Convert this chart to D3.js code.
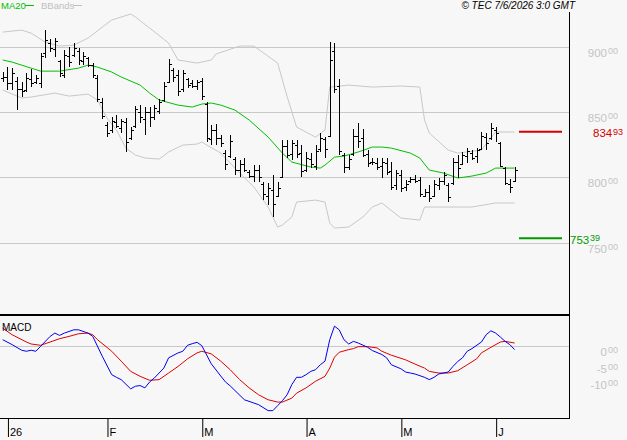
<!DOCTYPE html>
<html>
<head>
<meta charset="utf-8">
<script src="https://cdn.jsdelivr.net/npm/d3@7"></script>
<style>
  body { margin: 0; background: #f7f7f7; }
  svg { display: block; font-family: "Liberation Sans", Arial, sans-serif; }
</style>
</head>
<body>
<svg id="chart"></svg>
<script>
// OHLC bars, one per trading day (index 0 = last day of 2025)
const highs = [880.6,884.4,883.6,876.8,872.9,879.8,882.9,878.3,895.1,912.7,
  905.8,906.6,889.8,897.4,899.7,902.8,899.0,895.9,892.0,887.5,
  878.3,860.7,842.3,846.1,847.6,844.6,845.3,838.4,854.6,855.3,
  853.8,853.8,855.3,859.9,872.9,890.5,883.6,882.1,882.1,876.0,
  874.5,874.5,876.0,857.6,839.9,840.8,832.4,820.9,832.4,815.5,
  813.2,814.8,805.6,809.4,809.4,796.4,795.6,801.8,796.4,828.5,
  828.5,828.5,828.5,824.7,819.4,818.6,824.7,833.9,830.8,903.5,
  902.8,875.2,818.6,817.1,837.0,841.5,837.0,820.9,814.8,814.8,
  814.8,814.8,811.7,805.6,805.6,797.9,800.2,801.8,800.2,791.0,
  794.1,797.9,799.5,804.1,795.6,814.8,817.1,819.4,822.4,820.9,
  822.4,834.7,833.9,841.5,838.4,827.0,807.9,798.7,807.9];
const lows = [872.9,866.8,866.8,851.5,861.5,865.3,869.1,871.4,868.3,891.3,
  895.9,892.0,876.8,876.0,884.4,892.0,886.0,886.0,884.4,876.0,
  857.6,844.6,830.8,833.9,837.7,833.9,819.4,828.5,837.7,841.5,
  832.4,838.5,843.9,848.4,857.6,872.2,872.9,862.2,865.3,868.3,
  868.3,866.8,859.2,827.0,824.7,824.7,823.1,805.6,814.8,801.8,
  800.2,804.1,799.5,796.4,796.4,782.6,778.8,769.7,784.9,799.5,
  814.8,813.2,814.8,800.2,804.1,807.1,805.6,819.4,814.8,830.8,
  864.5,817.1,803.3,805.6,816.3,822.4,815.5,807.9,809.4,805.6,
  799.5,801.8,790.3,790.3,788.7,789.5,795.6,795.6,784.9,784.9,
  781.1,784.9,790.3,794.1,781.1,794.1,799.5,809.4,810.9,813.2,
  810.9,820.9,820.9,828.5,826.9,807.9,794.1,788.0,796.4];
const opens = [876,877,872,874,868,867,875,873,872,895,
  903,898,889,878,893,894,897,889,891,886,
  876,858,840,836,842,838,842,830,839,850,
  845,850,846,851,859,873,882,878,868,875,
  872,870,874,856,829,836,830,819,816,814,
  806,810,804,801,806,795,786,790,786,800,
  824,818,825,819,806,814,809,822,829,832,
  897,870,817,808,818,832,830,818,812,811,
  809,811,805,794,802,793,797,799,798,786,
  789,786,794,797,794,796,812,810,816,819,
  816,822,831,830,836,826,807,795,797];
const closes = [877,872,880,868,866,876,872,876,893,905,
  899,904,880,894,888,899,890,893,886,878,
  860,847,834,843,839,843,827,836,852,846,
  850,846,853,858,870,887,877,866,880,871,
  870,873,862,830,836,830,826,810,828,806,
  810,806,801,806,800,787,792,780,792,824,
  817,826,818,805,815,810,820,830,822,890,
  868,820,808,814,832,828,817,811,812,808,
  812,804,793,803,792,795,799,797,787,789,
  784,795,797,802,785,812,807,817,820,815,
  821,832,826,838,834,809,796,793,806];

// MA20 and Bollinger bands, read at these bar indices
const maIdx = [0,2,6,8,12,16,18,20,23,25,29,31,33,37,40,42,44,46,49,52,
  56,59,61,65,67,68,70,72,75,78,80,82,86,88,90,93,96,99,102,104,106,108];
const maVal = [889.8,888.2,883.6,881.3,881.3,883.6,885.9,884.4,880.6,876.8,
  870.6,864.5,859.2,855.3,853.8,856.1,856.9,855.3,851.5,843.9,
  830.8,818.6,811.7,807.9,807.1,809.4,815.5,816.3,819.4,823.2,
  823.2,822.4,818.6,814.8,805.6,803.3,799.5,801.0,803.3,807.1,807.1,807.1];
const upIdx = [0,4,6,9,12,15,18,21,23,27,28,31,35,37,41,44,45,50,53,58,
  60,62,66,68,69,73,78,84,88,89,90,94,96,101,104,108];
const upVal = [911.2,912.7,910.4,903.5,900.5,901.2,906.6,915.0,920.4,925.0,
  922.7,914.3,902.8,889.8,887.5,889.8,894.4,900.5,900.5,887.5,
  862.0,838.5,830.8,836.2,869.1,870.6,869.1,869.9,869.1,843.9,
  833.9,820.9,818.6,820.9,834.7,834.7];
const loIdx = [0,4,6,11,14,18,20,22,24,26,28,30,33,35,38,41,42,46,50,53,
  56,58,59,61,62,66,68,69,70,73,76,78,80,84,88,89,99,104,108];
const loVal = [866.8,860.7,861.5,864.5,862.2,863.7,859.2,845.4,836.2,822.4,
  817.1,814.8,814.0,819.4,824.7,825.5,827.0,818.6,803.3,792.6,
  777.3,762.0,763.5,769.7,781.1,782.6,781.1,765.0,761.2,762.0,
  769.7,777.3,780.4,768.9,767.3,777.3,777.3,780.4,780.4];

// MACD and signal
const macdIdx = [0,2,4,5,6,7,8,10,11,12,13,15,16,18,19,21,23,24,25,27,
  28,29,30,31,32,34,35,37,38,39,40,41,42,44,46,47,48,49,51,53,
  54,56,57,58,59,60,61,62,63,64,65,66,67,68,69,70,71,72,73,74,
  75,77,78,80,81,82,83,84,85,86,87,89,90,91,92,94,95,96,97,98,
  99,101,102,103,104,105,106,107,108];
const macdVal = [2.0,0.5,-1.2,-1.5,-1.2,-1.5,0,3.0,4.0,3.3,4.0,5.0,5.0,4.0,3.0,-3.0,-8.6,-9.4,-10.1,-12.9,
  -12.1,-11.9,-12.6,-10.8,-9.6,-6.6,-3.5,-2.0,-1.5,0.3,0.8,1.2,0.2,-5.3,-9.0,-10.8,-12.0,-13.4,-16.2,-17.2,
  -17.7,-19.5,-19.5,-18.0,-16.5,-14.7,-11.6,-9.4,-9.4,-8.6,-7.6,-7.1,-5.6,-4.5,2.0,6.1,5.0,2.0,0.7,1.5,
  1.0,-0.3,-1.3,-2.5,-3.5,-5.6,-6.2,-6.8,-7.8,-8.1,-8.4,-9.4,-10.1,-9.4,-8.4,-7.8,-6.1,-4.6,-3.5,-1.5,
  -0.7,1.3,3.5,4.7,4.0,2.8,1.5,0.5,-1.0];
const sigIdx = [0,2,5,6,8,10,12,14,16,18,19,20,23,25,27,29,31,33,35,37,
  39,41,42,44,46,48,50,52,54,56,58,59,61,62,64,66,68,69,70,71,
  73,74,75,77,79,80,82,85,87,89,90,92,94,96,98,100,101,103,105,106,108];
const sigVal = [5.5,3.5,1.3,0.7,0.3,1.3,2.3,3.0,3.8,4.0,3.5,2.0,-1.5,-4.5,-7.6,-9.1,-10.3,-10.1,-8.1,-6.1,
  -3.8,-2.0,-1.5,-2.3,-4.5,-7.1,-10.1,-12.6,-14.7,-16.2,-16.9,-16.9,-15.7,-14.2,-12.6,-10.6,-9.1,-6.6,-3.3,-1.8,
  -1.0,-0.7,-0.1,-0.1,-0.5,-1.5,-2.7,-4.1,-5.4,-6.6,-7.6,-8.1,-8.1,-7.4,-5.6,-3.8,-2.0,-0.3,1.3,1.5,1.0];

// axes and target levels
const priceTicks = [900, 850, 800, 750];
const macdTicks = [0, -5, -10];
const monthIdx = [1, 22, 42, 64, 84, 104];
const monthLabels = ["26", "F", "M", "A", "M", "J"];
const targetValues = [834.93, 753.39];
const targetColors = ["#d40000", "#009a00"];

const W = 627, H = 440;
const plotRight = 569;

const svg = d3.select("#chart").attr("width", W).attr("height", H);
svg.append("rect").attr("width", W).attr("height", H).attr("fill", "#f7f7f7");

const x = d3.scaleLinear().domain([0, 108]).range([2.7, 514.6]);
const y = d3.scaleLinear().domain([750, 900]).range([242.7, 46.7]);
const ym = d3.scaleLinear().domain([-10, 0]).range([379.3, 346.3]);
const px = (i) => Math.round(x(i)) + 0.5;
const crisp = (v) => Math.round(v) + 0.5;

// gridlines
svg.selectAll(".grid").data(priceTicks).enter().append("line")
  .attr("x1", 0).attr("x2", plotRight)
  .attr("y1", (d) => crisp(y(d))).attr("y2", (d) => crisp(y(d)))
  .attr("stroke", "#c8c8c8");
svg.append("line")
  .attr("x1", 0).attr("x2", plotRight)
  .attr("y1", crisp(ym(0))).attr("y2", crisp(ym(0)))
  .attr("stroke", "#c8c8c8");

// bands + MA
const priceLine = (idx, val) => d3.line().x((d, k) => x(idx[k])).y((d) => y(d))(val);
svg.append("path").attr("d", priceLine(upIdx, upVal)).attr("fill", "none").attr("stroke", "#c8c8c8");
svg.append("path").attr("d", priceLine(loIdx, loVal)).attr("fill", "none").attr("stroke", "#c8c8c8");
svg.append("path").attr("d", priceLine(maIdx, maVal)).attr("fill", "none").attr("stroke", "#00c000");

// OHLC bars
const bars = svg.append("g").attr("stroke", "#000").attr("shape-rendering", "crispEdges");
highs.forEach((h, i) => {
  bars.append("line").attr("x1", px(i)).attr("x2", px(i))
    .attr("y1", y(h)).attr("y2", y(lows[i]));
  bars.append("line").attr("x1", px(i) - 2.5).attr("x2", px(i))
    .attr("y1", crisp(y(opens[i]))).attr("y2", crisp(y(opens[i])));
  bars.append("line").attr("x1", px(i)).attr("x2", px(i) + 2.5)
    .attr("y1", crisp(y(closes[i]))).attr("y2", crisp(y(closes[i])));
});

// target levels
targetValues.forEach((v, k) => {
  svg.append("line").attr("x1", 519).attr("x2", 562)
    .attr("y1", y(v)).attr("y2", y(v))
    .attr("stroke", targetColors[k]).attr("stroke-width", 2);
  const tx = k === 0 ? 593 : 570;
  const parts = v.toFixed(2).split(".");
  svg.append("text").attr("x", tx).attr("y", y(v) + 5.5)
    .attr("font-size", 11.5).attr("fill", targetColors[k]).text(parts[0]);
  svg.append("text").attr("x", tx + 20).attr("y", y(v) + 3)
    .attr("font-size", 9).attr("fill", targetColors[k]).text(parts[1]);
});

// MACD lines
const macdLine = (idx, val) => d3.line().x((d, k) => x(idx[k])).y((d) => ym(d))(val);
svg.append("path").attr("d", macdLine(sigIdx, sigVal)).attr("fill", "none").attr("stroke", "#dd0000");
svg.append("path").attr("d", macdLine(macdIdx, macdVal)).attr("fill", "none").attr("stroke", "#0000ee");

// frame
svg.append("line").attr("x1", plotRight + 0.5).attr("x2", plotRight + 0.5)
  .attr("y1", 12).attr("y2", 419).attr("stroke", "#000");
svg.append("line").attr("x1", 0).attr("x2", plotRight + 1)
  .attr("y1", 315).attr("y2", 315).attr("stroke", "#000").attr("stroke-width", 2);
svg.append("line").attr("x1", 0).attr("x2", plotRight + 1)
  .attr("y1", 418.5).attr("y2", 418.5).attr("stroke", "#000");

// right axis labels
const rightLabels = (ticks, scale, fmt) => {
  ticks.forEach((t) => {
    svg.append("text").attr("x", 607).attr("y", scale(t) + 10)
      .attr("text-anchor", "end").attr("font-size", 11.5).attr("fill", "#c4c4c4")
      .text(fmt(t));
    svg.append("text").attr("x", 608).attr("y", scale(t) + 7)
      .attr("font-size", 9).attr("fill", "#c4c4c4").text("00");
  });
};
rightLabels(priceTicks, y, (t) => t);
rightLabels(macdTicks, ym, (t) => t);

// month axis
const xAxis = svg.append("g").attr("transform", "translate(0,419)")
  .call(d3.axisBottom(x).tickValues(monthIdx).tickSize(18)
    .tickFormat((d, k) => monthLabels[k]));
xAxis.select(".domain").remove();
xAxis.selectAll(".tick line").attr("stroke", "#000").attr("x1", 0.5).attr("x2", 0.5);
xAxis.selectAll(".tick text")
  .attr("text-anchor", "start").attr("x", 2).attr("y", 9).attr("dy", "0.71em")
  .attr("font-size", 11).attr("font-family", "Liberation Sans, Arial, sans-serif")
  .attr("fill", "#000");

// legend and captions
svg.append("text").attr("x", 1).attr("y", 8.5).attr("font-size", 9.5)
  .attr("fill", "#00c000").text("MA20");
svg.append("line").attr("x1", 25).attr("x2", 34).attr("y1", 5.5).attr("y2", 5.5)
  .attr("stroke", "#00c000");
svg.append("text").attr("x", 41).attr("y", 8.5).attr("font-size", 9.5)
  .attr("fill", "#c0c0c0").text("BBands");
svg.append("line").attr("x1", 73).attr("x2", 82).attr("y1", 5.5).attr("y2", 5.5)
  .attr("stroke", "#c0c0c0");
svg.append("text").attr("x", 575).attr("y", 9).attr("text-anchor", "end")
  .attr("font-size", 10).attr("font-style", "italic").attr("fill", "#000")
  .text("© TEC 7/6/2026 3:0 GMT");
svg.append("text").attr("x", 2).attr("y", 331).attr("font-size", 10)
  .attr("fill", "#000").text("MACD");
</script>
</body>
</html>
